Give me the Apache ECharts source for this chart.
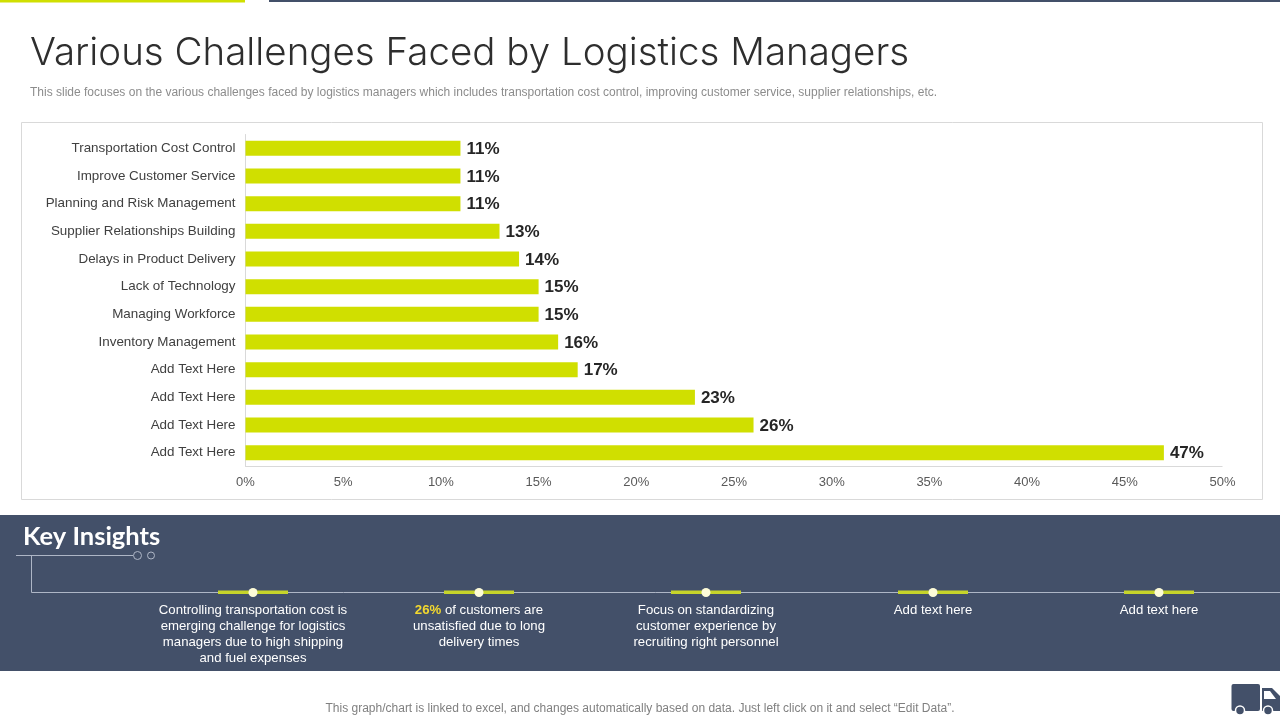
<!DOCTYPE html>
<html>
<head>
<meta charset="utf-8">
<title>Various Challenges Faced by Logistics Managers</title>
<script src="https://cdn.jsdelivr.net/npm/echarts@6/dist/echarts.min.js"></script>
<style>
  html, body { margin: 0; padding: 0; background: #fff; }
  #chart { width: 1280px; height: 720px; }
</style>
</head>
<body>
<div id="chart"></div>
<script>
const categories = [
  'Transportation Cost Control', 'Improve Customer Service', 'Planning and Risk Management',
  'Supplier Relationships Building', 'Delays in Product Delivery', 'Lack of Technology',
  'Managing Workforce', 'Inventory Management', 'Add Text Here', 'Add Text Here',
  'Add Text Here', 'Add Text Here'
]
const shares = [11, 11, 11, 13, 14, 15, 15, 16, 17, 23, 26, 47]

const titleText = 'Various Challenges Faced by Logistics Managers'
const subtitleText = 'This slide focuses on the various challenges faced by logistics managers which includes transportation cost control, improving customer service, supplier relationships, etc.'
const footerText = 'This graph/chart is linked to excel, and changes automatically based on data. Just left click on it and select “Edit Data”.'
const insightsHeading = 'Key Insights'
const insights = [
  'Controlling transportation cost is\nemerging challenge for logistics\nmanagers due to high shipping\nand fuel expenses',
  '{hl|26%} of customers are\nunsatisfied due to long\ndelivery times',
  'Focus on standardizing\ncustomer experience by\nrecruiting right personnel',
  'Add text here',
  'Add text here'
]

const GREEN = '#d0df00'
const NAVY = '#435069'
const LINE = '#aeb6c6'
const SANS = '"Liberation Sans", Arial, sans-serif'
const insightX = [253, 479, 706, 933, 1159]

const line = (x1, y1, x2, y2, stroke, lineWidth) => ({
  type: 'line', shape: { x1, y1, x2, y2 }, style: { stroke, lineWidth }
})
const rect = (x, y, width, height, fill, r) => ({
  type: 'rect', shape: { x, y, width, height, r: r || 0 }, style: { fill }
})
const text = (x, y, str, style) => ({
  type: 'text', x, y, style: Object.assign({ text: str, fontFamily: SANS }, style)
})

const decor = [
  rect(0, 0, 245, 2.5, GREEN),
  rect(269, 0, 1011, 2, NAVY),
  { type: 'rect', shape: { x: 21.5, y: 122.5, width: 1241, height: 377 },
    style: { fill: 'none', stroke: '#d9d9d9', lineWidth: 1 }, z: 0 },
  text(30, 53, titleText, { fontFamily: 'Inter, "Noto Sans", sans-serif', fontWeight: 300, fontSize: 38.5, fill: '#2e2e2e', textVerticalAlign: 'middle' }),
  text(30, 92.5, subtitleText, { fontSize: 12, fill: '#8c8c8c', textVerticalAlign: 'middle' }),
  rect(0, 515, 1280, 156, NAVY),
  text(23, 537, insightsHeading, { fontFamily: 'Lato, "Noto Sans", sans-serif', fontWeight: 700, fontSize: 25.5, fill: '#fff', textVerticalAlign: 'middle' }),
  line(16, 555.5, 133, 555.5, LINE, 1),
  line(31.5, 555.5, 31.5, 592.5, LINE, 1),
  line(31.5, 592.5, 1280, 592.5, LINE, 1),
  { type: 'circle', shape: { cx: 137.5, cy: 555.5, r: 4 }, style: { fill: 'none', stroke: LINE, lineWidth: 1 } },
  { type: 'circle', shape: { cx: 151, cy: 555.5, r: 3.5 }, style: { fill: 'none', stroke: LINE, lineWidth: 1 } },
  text(640, 708.5, footerText, { fontSize: 12, fill: '#808080', textAlign: 'center', textVerticalAlign: 'middle' }),
  // truck icon
  rect(1231.5, 684, 28.5, 27, NAVY, 2),
  { type: 'polygon', shape: { points: [[1262, 688], [1272, 688], [1280, 696], [1280, 711], [1262, 711]] }, style: { fill: NAVY } },
  { type: 'polygon', shape: { points: [[1264, 691], [1270, 691], [1276, 699], [1264, 699]] }, style: { fill: '#fff' } },
  { type: 'circle', shape: { cx: 1240, cy: 710.5, r: 4.5 }, style: { fill: NAVY, stroke: '#fff', lineWidth: 1.5 } },
  { type: 'circle', shape: { cx: 1268, cy: 710.5, r: 4.5 }, style: { fill: NAVY, stroke: '#fff', lineWidth: 1.5 } }
]

insightX.forEach((x, i) => {
  decor.push(rect(x - 35, 590.5, 70, 3.5, '#c6d42a'))
  decor.push({ type: 'circle', shape: { cx: x, cy: 592.5, r: 4.5 }, style: { fill: '#fdfbd8' } })
  decor.push({
    type: 'text', x, y: 602,
    style: {
      text: insights[i], fontFamily: SANS, fontSize: 13.2, lineHeight: 16, fill: '#fff', textAlign: 'center',
      rich: { hl: { fill: '#f4d92e', fontWeight: 700, fontFamily: SANS, fontSize: 13.2, lineHeight: 16 } }
    }
  })
})

const chart = echarts.init(document.getElementById('chart'), null, { renderer: 'canvas' })
chart.setOption({
  animation: false,
  backgroundColor: '#fff',
  grid: { left: 245.5, right: 57.5, top: 134.5, height: 332 },
  xAxis: {
    type: 'value', min: 0, max: 50, interval: 5,
    axisLine: { show: false }, axisTick: { show: false }, splitLine: { show: false },
    axisLabel: { formatter: '{value}%', color: '#595959', fontFamily: SANS, fontSize: 13, margin: 9 }
  },
  yAxis: {
    type: 'category', inverse: true, data: categories,
    axisLine: { show: true, lineStyle: { color: '#d9d9d9' } },
    axisTick: { show: false },
    axisLabel: { color: '#404040', fontFamily: SANS, fontSize: 13.4, margin: 10 }
  },
  series: [{
    type: 'bar', data: shares, barWidth: 15, itemStyle: { color: GREEN },
    label: {
      show: true, position: 'right', distance: 6, offset: [0, 1], formatter: '{c}%',
      color: '#262626', fontFamily: SANS, fontWeight: 700, fontSize: 17
    },
    markLine: {
      silent: true, symbol: 'none', label: { show: false },
      lineStyle: { color: '#d9d9d9', type: 'solid', width: 1 },
      data: [[{ coord: [0, 11], y: 466.5 }, { coord: [50, 11], y: 466.5 }]]
    }
  }],
  graphic: { elements: decor }
})
</script>
</body>
</html>
